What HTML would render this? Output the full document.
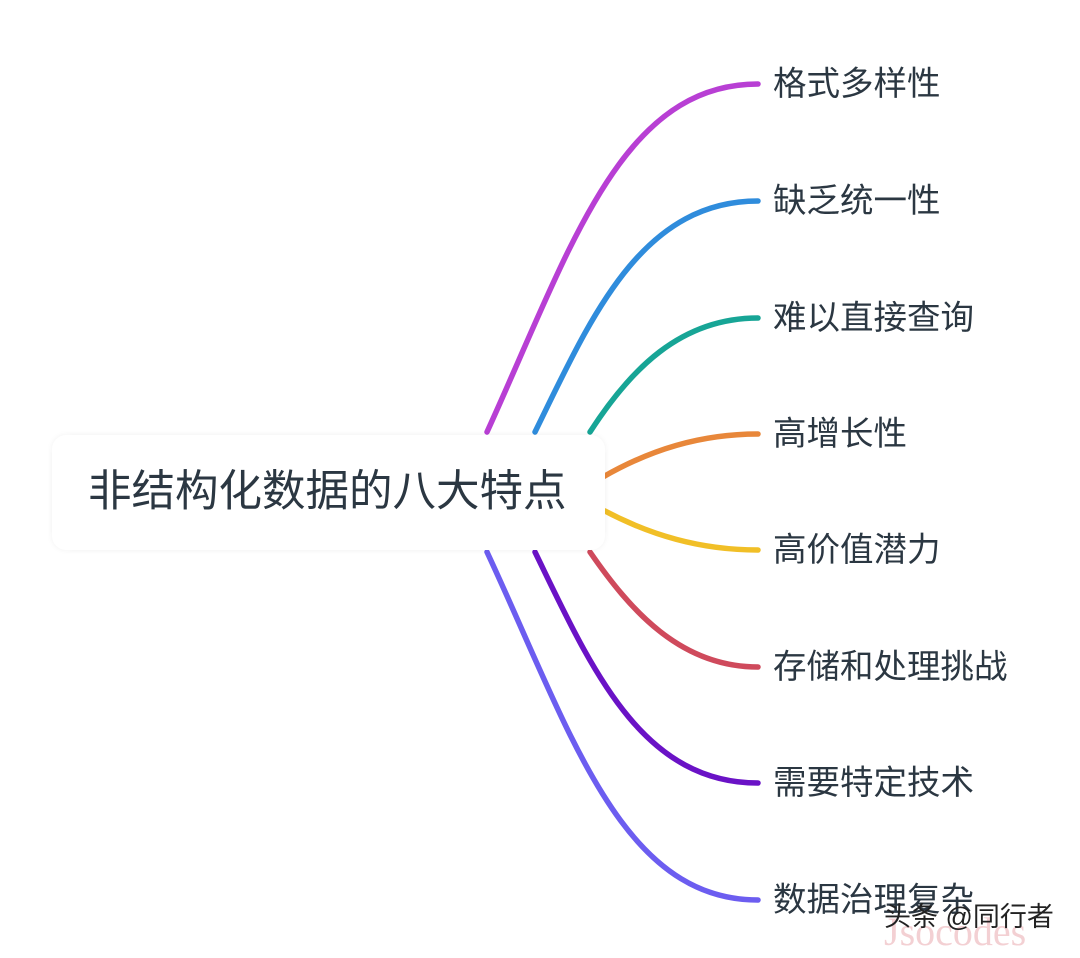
<!DOCTYPE html>
<html><head><meta charset="utf-8"><style>
html,body{margin:0;padding:0;background:#fff;}
body{width:1080px;height:958px;position:relative;overflow:hidden;font-family:"Liberation Sans","Noto Sans CJK SC",sans-serif;}
.lbl{position:absolute;left:773px;font-size:33.5px;color:#2b3742;line-height:1;white-space:nowrap;}
.node{position:absolute;left:52px;top:435px;width:553px;height:115px;background:#fff;border-radius:14px;box-shadow:0 0 6px rgba(0,0,0,0.06);}
.ctext{position:absolute;left:88px;top:471px;font-size:43.5px;color:#2b3742;line-height:1;white-space:nowrap;}
.wm{position:absolute;left:884px;top:904px;font-size:27px;color:#222;line-height:1;}
.wm2{position:absolute;left:884px;top:912px;font-size:40px;color:rgba(220,120,130,0.35);font-family:"Liberation Serif",serif;line-height:1;}
</style></head><body>
<svg width="1080" height="958" style="position:absolute;left:0;top:0" fill="none" stroke-width="5.5" stroke-linecap="round">
<path d="M487,432 C570,250 620,84 758,84" stroke="#b83fd4"/>
<path d="M535,432 C590,320 640,201 758,201" stroke="#2f8cdc"/>
<path d="M590,432 C630,370 680,318 758,318" stroke="#17a596"/>
<path d="M603,477 C650,450 700,434 758,434" stroke="#e8873a"/>
<path d="M603,510 C650,535 700,550 758,550" stroke="#f1bf27"/>
<path d="M590,552 C630,610 680,667 758,667" stroke="#cf4a5c"/>
<path d="M535,552 C590,665 640,783 758,783" stroke="#6a12c6"/>
<path d="M487,552 C570,730 620,900 758,900" stroke="#6c5df0"/>
</svg>
<div class="node"></div>
<div class="ctext">非结构化数据的八大特点</div>
<div class="lbl" style="top:68px">格式多样性</div>
<div class="lbl" style="top:185px">缺乏统一性</div>
<div class="lbl" style="top:302px">难以直接查询</div>
<div class="lbl" style="top:418px">高增长性</div>
<div class="lbl" style="top:534px">高价值潜力</div>
<div class="lbl" style="top:651px">存储和处理挑战</div>
<div class="lbl" style="top:767px">需要特定技术</div>
<div class="lbl" style="top:884px">数据治理复杂</div>
<div class="wm2">Jsocodes</div>
<div class="wm">头条 @同行者</div>
</body></html>
